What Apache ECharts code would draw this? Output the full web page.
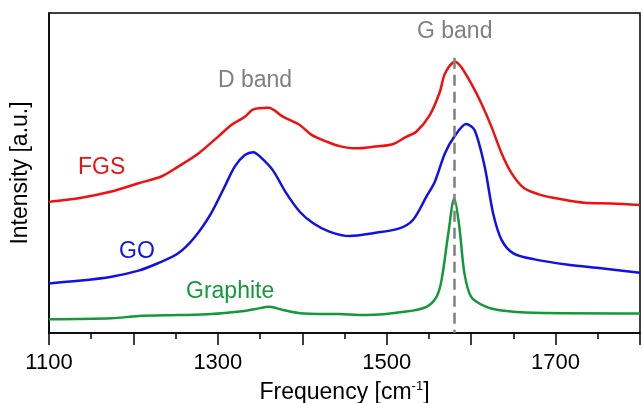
<!DOCTYPE html>
<html>
<head>
<meta charset="utf-8">
<script src="https://cdn.jsdelivr.net/npm/echarts@6/dist/echarts.min.js"></script>
<style>
  html, body { margin: 0; padding: 0; background: #fff; }
  #chart { width: 643px; height: 403px; }
</style>
</head>
<body>
<div id="chart"></div>
<script>
// Raman spectra, values (arbitrary intensity units, offset per curve)
const fgsFreq = [1100, 1135, 1174, 1206, 1233, 1253, 1277, 1300, 1316, 1332, 1342, 1360, 1377, 1397, 1411, 1429, 1444, 1464, 1484, 1507, 1523, 1535, 1551, 1563, 1569, 1581, 1588, 1600, 1612, 1624, 1636, 1648, 1663, 1683, 1707, 1734, 1766, 1800];
const fgsVal  = [41.0, 42.1, 44.2, 46.8, 48.9, 52.0, 56.1, 61.3, 65.0, 67.6, 69.9, 70.4, 67.6, 65.0, 61.9, 59.8, 58.4, 57.7, 58.2, 59.0, 61.3, 62.9, 68.1, 75.4, 81.1, 84.8, 83.2, 78.0, 71.8, 64.5, 56.2, 49.9, 45.2, 43.1, 41.8, 40.7, 40.5, 40.0];

const goFreq = [1100, 1135, 1174, 1206, 1229, 1253, 1273, 1292, 1308, 1320, 1332, 1342, 1350, 1365, 1381, 1397, 1413, 1432, 1456, 1484, 1515, 1531, 1547, 1557, 1569, 1580, 1594, 1604, 1616, 1626, 1636, 1650, 1675, 1715, 1754, 1800];
const goVal  = [15.5, 16.3, 17.6, 19.5, 21.8, 24.9, 30.1, 37.4, 45.7, 52.0, 55.6, 56.5, 55.1, 50.9, 43.7, 37.9, 34.3, 31.7, 30.3, 31.2, 32.7, 35.3, 42.6, 47.3, 56.2, 61.3, 65.3, 63.4, 52.0, 37.4, 29.1, 24.9, 23.0, 21.3, 20.2, 18.8];

const grFreq = [1100, 1174, 1206, 1253, 1292, 1326, 1345, 1361, 1377, 1397, 1444, 1476, 1523, 1547, 1559, 1565, 1573, 1580, 1586, 1592, 1600, 1616, 1636, 1675, 1800];
const grVal  = [4.3, 4.6, 5.3, 5.6, 5.9, 6.7, 7.5, 8.2, 7.2, 6.2, 5.9, 5.6, 6.7, 8.2, 11.3, 16.6, 31.2, 42.1, 33.2, 18.7, 11.3, 8.4, 7.0, 6.3, 6.1];

const gBandPos = 1580;
const gBandTop = 86;

const pairs = (xs, ys) => xs.map((x, i) => [x, ys[i]]);

const font = "'Liberation Sans', Arial, sans-serif";
const chart = echarts.init(document.getElementById('chart'));

const lineSeries = (name, xs, ys, color) => ({
  name: name,
  type: 'line',
  data: pairs(xs, ys),
  smooth: 0.3,
  symbol: 'none',
  lineStyle: { color: color, width: 2.5 },
  z: 3
});

const option = {
  animation: false,
  backgroundColor: '#fff',
  grid: {
    left: 49, right: 3, top: 13, bottom: 70,
    outerBoundsMode: 'none',
    containLabel: false,
    show: true, borderColor: '#000', borderWidth: 1.5
  },
  xAxis: {
    type: 'value',
    min: 1100, max: 1800, interval: 100,
    name: 'Frequency [cm{sup|-1}]',
    nameLocation: 'middle',
    nameGap: 47,
    nameTextStyle: {
      fontFamily: font, fontSize: 23, color: '#000',
      rich: { sup: { fontFamily: font, fontSize: 13, color: '#000', verticalAlign: 'top', padding: [0, 0, 13, 0] } }
    },
    axisLine: { lineStyle: { color: '#000', width: 1.5 } },
    axisTick: { inside: false, length: 12, lineStyle: { color: '#000', width: 1.5 } },
    minorTick: { show: true, splitNumber: 2, length: 6, lineStyle: { color: '#000', width: 1.5 } },
    axisLabel: {
      fontFamily: font, fontSize: 22, color: '#000', margin: 19,
      formatter: v => (v % 200 === 100 ? String(v) : '')
    },
    splitLine: { show: false }
  },
  yAxis: {
    type: 'value',
    min: 0, max: 100,
    name: 'Intensity [a.u.]',
    nameLocation: 'middle',
    nameGap: 17,
    nameTextStyle: { fontFamily: font, fontSize: 23, color: '#000' },
    axisLine: { show: true, lineStyle: { color: '#000', width: 1.5 } },
    axisTick: { show: false },
    axisLabel: { show: false },
    splitLine: { show: false }
  },
  series: [
    lineSeries('FGS', fgsFreq, fgsVal, '#f01010'),
    lineSeries('GO', goFreq, goVal, '#1010e8'),
    Object.assign(lineSeries('Graphite', grFreq, grVal, '#14993a'), {
      markLine: {
        silent: true,
        symbol: 'none',
        label: { show: false },
        lineStyle: { color: '#808080', width: 2.5, type: [11, 6] },
        data: [[{ coord: [gBandPos, gBandTop] }, { coord: [gBandPos, 0] }]]
      }
    })
  ],
  graphic: [
    { type: 'text', left: 417, top: 20, style: { text: 'G band', font: '23px ' + font, fill: '#808080' } },
    { type: 'text', left: 218, top: 69, style: { text: 'D band', font: '23px ' + font, fill: '#808080' } },
    { type: 'text', left: 78, top: 156, style: { text: 'FGS', font: '23px ' + font, fill: '#f01010' } },
    { type: 'text', left: 119, top: 240, style: { text: 'GO', font: '23px ' + font, fill: '#1010e8' } },
    { type: 'text', left: 186, top: 280, style: { text: 'Graphite', font: '23px ' + font, fill: '#14993a' } }
  ]
};

chart.setOption(option);
</script>
</body>
</html>
